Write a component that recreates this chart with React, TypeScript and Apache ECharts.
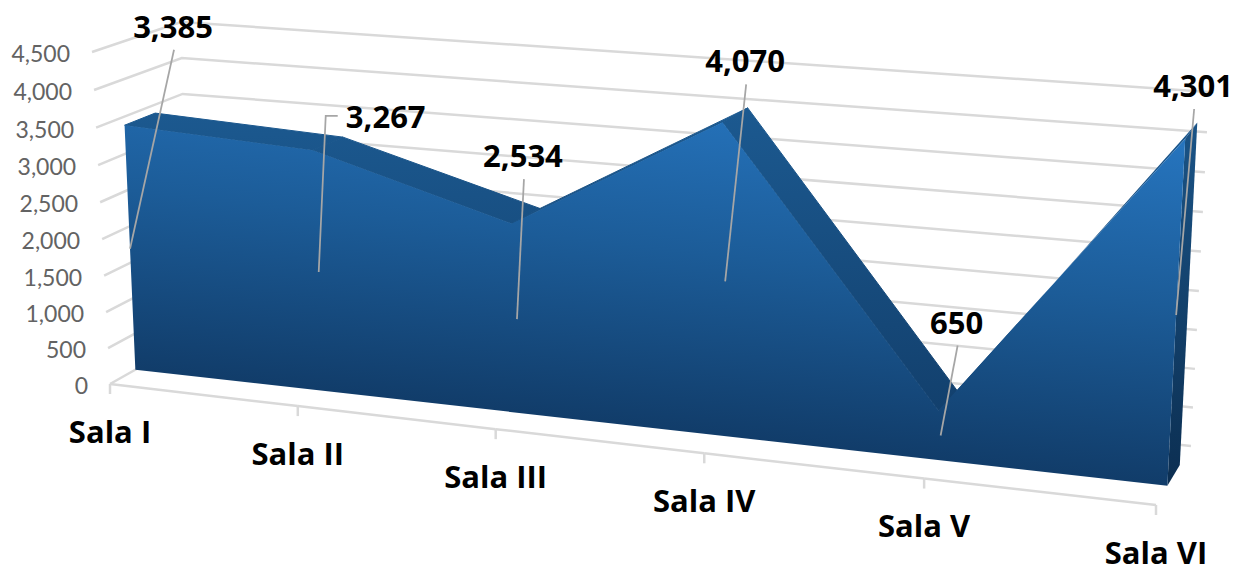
import React, { useEffect, useRef } from "react";
import * as echarts from "echarts";

const categories = ["Sala I", "Sala II", "Sala III", "Sala IV", "Sala V", "Sala VI"];
const values = [3385, 3267, 2534, 4070, 650, 4301];
const yTicks = [0, 500, 1000, 1500, 2000, 2500, 3000, 3500, 4000, 4500];
const Y_MAX = 4500;

// Where the plotted box lands on screen: a perspective picture of the axis cube.
// Corner order: bottom-left, bottom-right, top-right, top-left.
type P = [number, number];
const frontQuad: P[] = [[110, 384], [1156, 505], [1175, 136.5], [92, 52]];
const backQuad: P[] = [[188, 340], [1191, 446], [1209, 92], [181, 22]];
const AREA_FRONT = 0.325;
const AREA_BACK = 0.68;
const BOW_FLOOR = 5;
const BOW_FRONT = 7.5;
const BOW_BACK = 2.5;
const BOW_ANCHOR = 3;

// Label offsets from the leader's anchor on the area.
const labelOffsets: P[] = [[43, -223], [67, -156], [6, -164], [20, -221], [16, -114], [17, -230]];

const lerp = (a: number, b: number, t: number) => a + (b - a) * t;

function project(u: number, v: number, d: number, bow = 0): P {
  const q = frontQuad.map((p, i) => [lerp(p[0], backQuad[i][0], d), lerp(p[1], backQuad[i][1], d)]);
  const [x0, y0] = q[0], [x1, y1] = q[1], [x2, y2] = q[2], [x3, y3] = q[3];
  const dx1 = x1 - x2, dx2 = x3 - x2, sx = x0 - x1 + x2 - x3;
  const dy1 = y1 - y2, dy2 = y3 - y2, sy = y0 - y1 + y2 - y3;
  const den = dx1 * dy2 - dx2 * dy1;
  const g = (sx * dy2 - dx2 * sy) / den;
  const h = (dx1 * sy - sx * dy1) / den;
  const a = x1 - x0 + g * x1, b = x3 - x0 + h * x3;
  const c = y1 - y0 + g * y1, e = y3 - y0 + h * y3;
  const w = g * u + h * v + 1;
  return [(a * u + b * v + x0) / w - bow * 4 * u * (1 - u), (c * u + e * v + y0) / w];
}

// Category index + value go through the axes' scales, then through the perspective.
function makeMapper(params: any, api: any) {
  const cs = params.coordSys;
  return (cat: number, val: number, d: number, bow = 0): P => {
    const [px, py] = api.coord([cat, val]);
    return project((px - cs.x) / cs.width, 1 - (py - cs.y) / cs.height, d, bow);
  };
}

const fmt = (n: number) => n.toLocaleString("en-US");
const GRID = "#d9d9d9";
const LEADER = "#a6a6a6";
const lastCat = categories.length - 1;
const BOLD = "bold 31px 'Open Sans'";

const frontFill = () =>
  new echarts.graphic.LinearGradient(650, 430, 690, 70, [
    { offset: 0, color: "#113c69" },
    { offset: 0.5, color: "#1c5c98" },
    { offset: 1, color: "#2777c2" },
  ], true);
const topFill = () =>
  new echarts.graphic.LinearGradient(0, 100, 0, 420, [
    { offset: 0, color: "#1c5a91" },
    { offset: 1, color: "#123f6c" },
  ], true);
const sideFill = () =>
  new echarts.graphic.LinearGradient(0, 120, 0, 480, [
    { offset: 0, color: "#1a5487" },
    { offset: 1, color: "#0c2f52" },
  ], true);

const poly = (points: P[], fill: any, stroke?: any) => ({
  type: "polygon",
  shape: { points },
  style: stroke ? { fill, stroke, lineWidth: 1 } : { fill },
  silent: true,
});
const line = (points: P[], stroke: string, lineWidth = 2.5) => ({
  type: "polyline",
  shape: { points },
  style: { stroke, lineWidth, fill: "none" },
  silent: true,
});
const text = (x: number, y: number, str: string, font: string, fill: string, align = "center") => ({
  type: "text",
  x,
  y,
  style: { text: str, font, fill, textAlign: align, textVerticalAlign: "middle", align, verticalAlign: "middle" },
  silent: true,
});

export default function App() {
  const ref = useRef<HTMLDivElement>(null);
  useEffect(() => {
    const chart = echarts.init(ref.current!, undefined, { renderer: "svg" });
    const seriesBase = { type: "custom", coordinateSystem: "cartesian2d", clip: false, silent: true };
    const xDim = { x: 0, y: 1 };

    chart.setOption({
      animation: false,
      backgroundColor: "#ffffff",
      grid: { left: 100, right: 100, top: 60, bottom: 60 },
      xAxis: { type: "category", data: categories, boundaryGap: false, show: false },
      yAxis: { type: "value", min: 0, max: Y_MAX, interval: 500, show: false },
      series: [
        {
          // gridlines + value-axis labels
          ...seriesBase,
          encode: xDim,
          data: yTicks.map((t) => [0, t]),
          renderItem(params: any, api: any) {
            const m = makeMapper(params, api);
            const t = api.value(1);
            const a = m(0, t, 0), b = m(0, t, 1), c = m(lastCat, t, 1);
            return {
              type: "group",
              children: [
                line([a, b, c], GRID),
                text(a[0] - 22, a[1] + 1, fmt(t), "23px Lato", "#636363", "right"),
              ],
            };
          },
        },
        {
          // floor front edge, ticks and category labels
          ...seriesBase,
          encode: xDim,
          data: categories.map((_, i) => [i, 0]),
          renderItem(params: any, api: any) {
            const m = makeMapper(params, api);
            const i = api.value(0);
            const p = m(i, 0, 0, BOW_FLOOR);
            const kids: any[] = [
              line([p, [p[0], p[1] + 10]], GRID),
              text(p[0], p[1] + 46.5, categories[i], BOLD, "#000000"),
            ];
            if (i < lastCat) kids.push(line([p, m(i + 1, 0, 0, BOW_FLOOR)], GRID));
            return { type: "group", children: kids };
          },
        },
        {
          // area's top faces
          ...seriesBase,
          encode: xDim,
          data: values.slice(0, -1).map((v, i) => [i, v, values[i + 1]]),
          renderItem(params: any, api: any) {
            const m = makeMapper(params, api);
            const i = api.value(0), v0 = api.value(1), v1 = api.value(2);
            return poly(
              [
                m(i, v0, AREA_FRONT, BOW_FRONT),
                m(i + 1, v1, AREA_FRONT, BOW_FRONT),
                m(i + 1, v1, AREA_BACK, BOW_BACK),
                m(i, v0, AREA_BACK, BOW_BACK),
              ],
              topFill(),
              i < lastCat - 1 ? topFill() : undefined
            );
          },
        },
        {
          // right side face
          ...seriesBase,
          encode: xDim,
          data: [[lastCat, values[lastCat]]],
          renderItem(params: any, api: any) {
            const m = makeMapper(params, api);
            const i = api.value(0), v = api.value(1);
            return poly(
              [m(i, 0, AREA_FRONT), m(i, 0, AREA_BACK), m(i, v, AREA_BACK), m(i, v, AREA_FRONT)],
              sideFill()
            );
          },
        },
        {
          // front face: one polygon built from all the points
          ...seriesBase,
          encode: xDim,
          data: [[0, values[0]]],
          renderItem(params: any, api: any) {
            const m = makeMapper(params, api);
            const tops = values.map((v, i) => m(i, v, AREA_FRONT, BOW_FRONT));
            return poly([m(0, 0, AREA_FRONT), ...tops, m(lastCat, 0, AREA_FRONT)], frontFill());
          },
        },
        {
          // data labels and leader lines
          ...seriesBase,
          encode: xDim,
          data: values.map((v, i) => [i, v]),
          renderItem(params: any, api: any) {
            const m = makeMapper(params, api);
            const i = api.value(0), v = api.value(1);
            const anchor = m(i, v / 2, AREA_FRONT, BOW_ANCHOR);
            const [ox, oy] = labelOffsets[i];
            const lx = anchor[0] + ox, ly = anchor[1] + oy;
            const pts: P[] =
              i === 1
                ? [anchor, [anchor[0] + 7, ly], [lx - 48, ly]]
                : [anchor, [lx + 1, ly + 24]];
            return {
              type: "group",
              children: [line(pts, LEADER, 1.75), text(lx, ly, fmt(v), BOLD, "#000000")],
            };
          },
        },
      ],
    });
    return () => chart.dispose();
  }, []);
  return <div ref={ref} style={{ position: "absolute", left: 0, top: 0, width: 1240, height: 572 }} />;
}
